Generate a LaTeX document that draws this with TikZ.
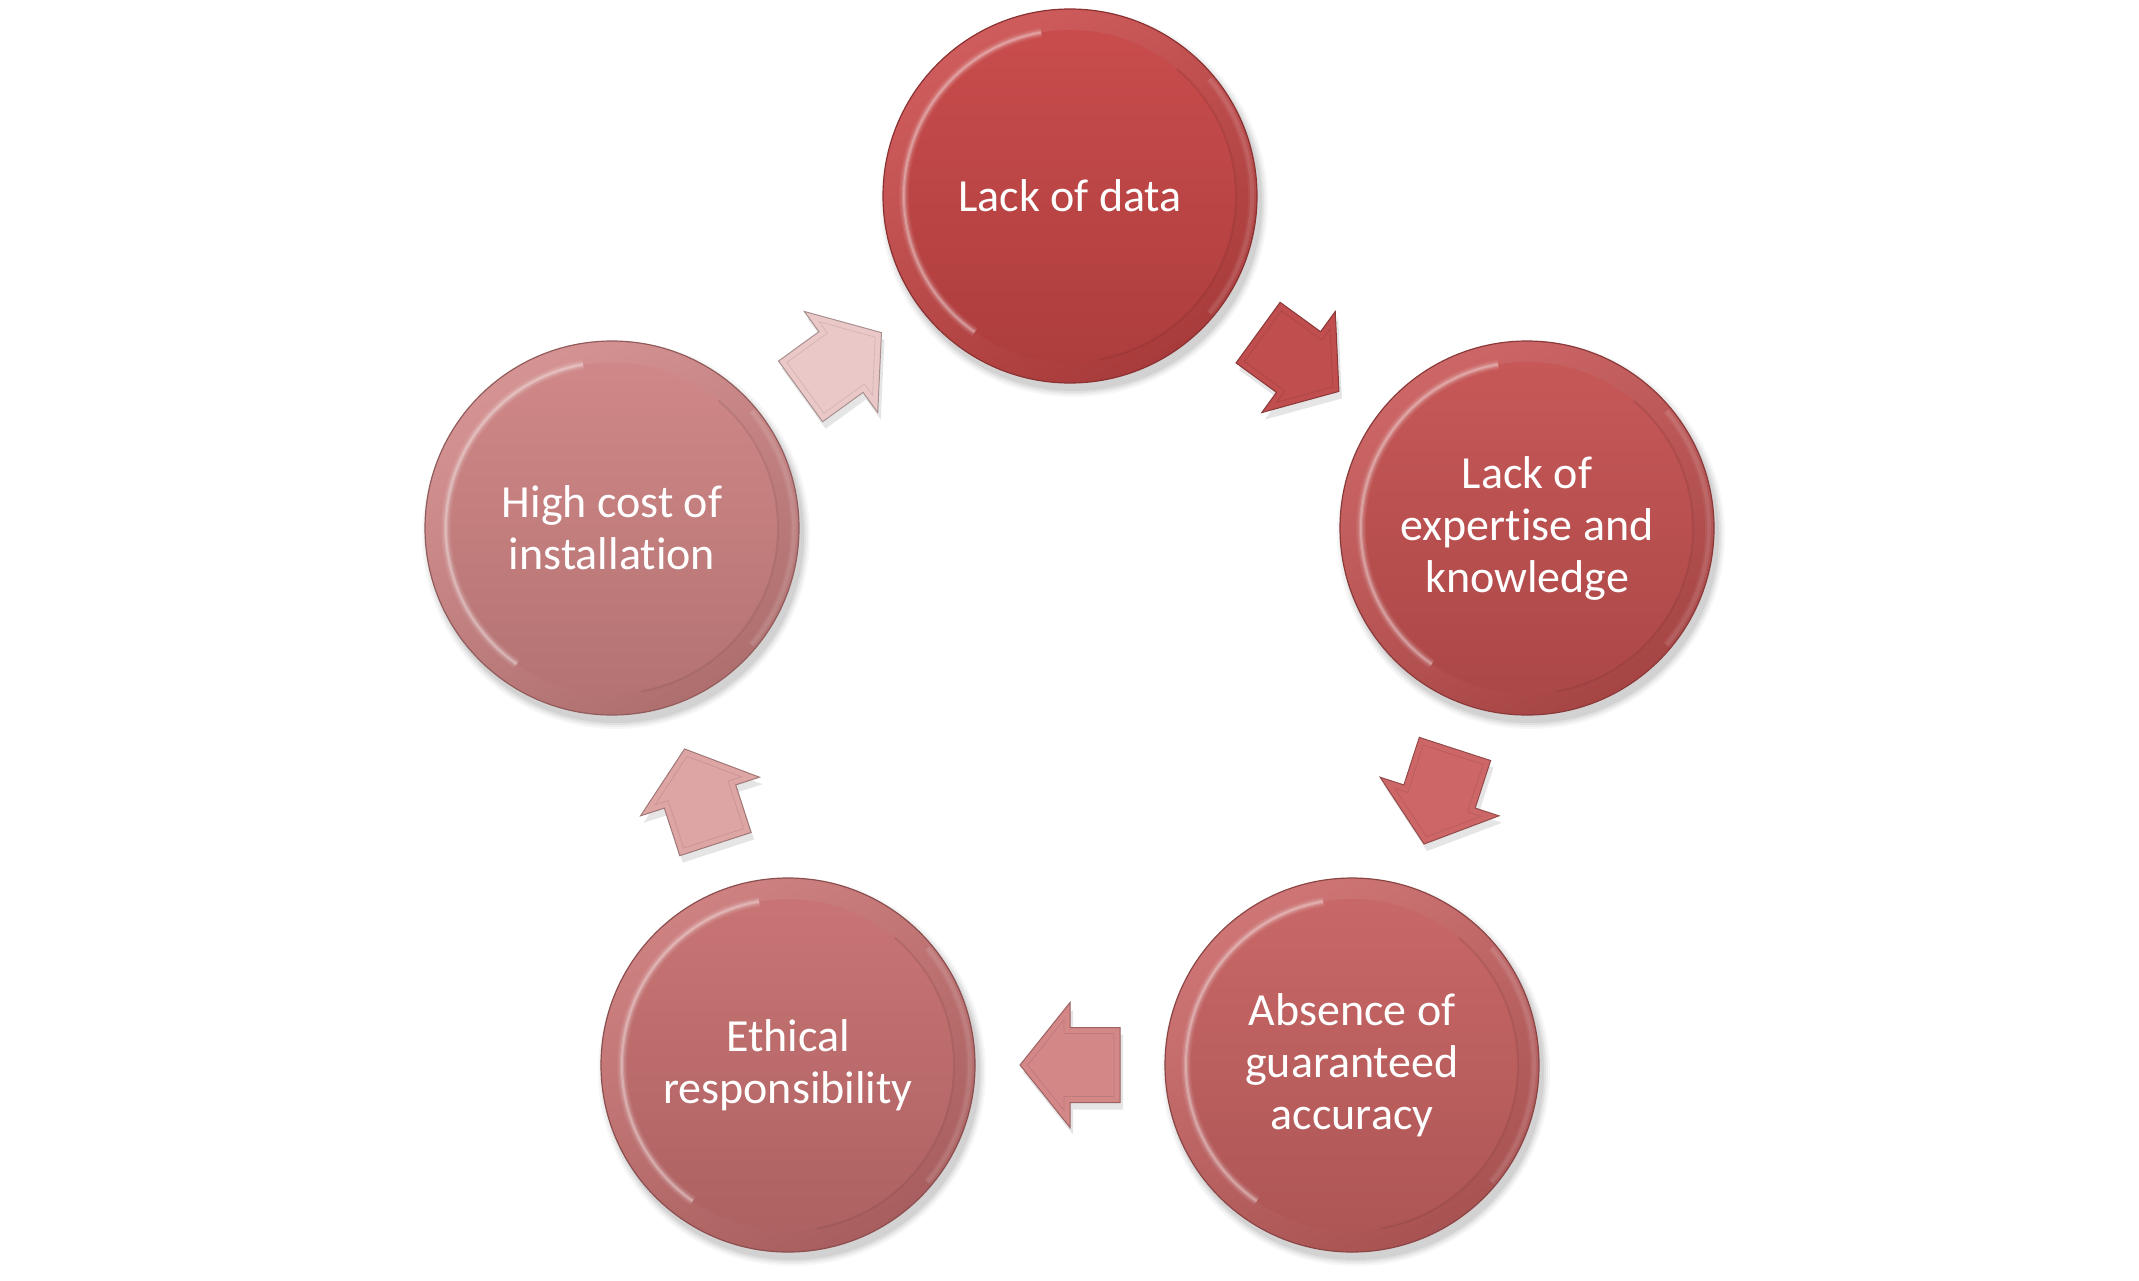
\documentclass[tikz,border=0pt]{standalone}
\usepackage{fontspec}
\setmainfont{Carlito}[Ligatures={NoCommon}]
\usetikzlibrary{calc}
\definecolor{cA}{RGB}{200,70,70}
\definecolor{cB}{RGB}{198,82,82}
\definecolor{cC}{RGB}{200,98,98}
\definecolor{cD}{RGB}{200,112,112}
\definecolor{cE}{RGB}{208,132,132}
\definecolor{aA}{RGB}{192,78,78}
\definecolor{aB}{RGB}{205,103,103}
\definecolor{aC}{RGB}{212,135,135}
\definecolor{aD}{RGB}{222,165,165}
\definecolor{aE}{RGB}{235,200,200}
\newcommand\bshadow[1]{%
  \foreach \r/\o in {97/0.03,96/0.04,95/0.05,94/0.06}{%
    \fill[black,opacity=\o] ($(#1)+(4,7)$) circle[radius=\r pt];}}
\newcommand\cycarrow[4]{% from, to, angle, colour
  \begin{scope}[shift={($($(#1)!0.5!(#2)$)+(3,7)$)}, rotate=#3]
    \fill[black,opacity=0.10] (-50,-37.5) -- (0,-37.5) -- (0,-62.5) -- (50,0) -- (0,62.5) -- (0,37.5) -- (-50,37.5) -- cycle;
  \end{scope}
  \begin{scope}[shift={($(#1)!0.5!(#2)$)}, rotate=#3]
    \path[arrowbody=#4] (-50,-37.5) -- (0,-37.5) -- (0,-62.5) -- (50,0) -- (0,62.5) -- (0,37.5) -- (-50,37.5) -- cycle;
    \path[arrowbevel=#4] (-44,-31.5) -- (6,-31.5) -- (6,-45.4) -- (42.3,0) -- (6,45.4) -- (6,31.5) -- (-44,31.5) -- cycle;
  \end{scope}}
\begin{document}
\begin{tikzpicture}[x=0.5pt,y=-0.5pt,
  bubble/.style={circle, minimum size=187pt, inner sep=0pt, text=white, align=center,
    font=\fontsize{23}{26}\selectfont, draw=#1!70!black, line width=0.6pt,
    top color=#1!88!white, bottom color=#1!84!black, shading angle=30,
    path picture={
      \shade[top color=#1!96!white, bottom color=#1!86!black]
        (path picture bounding box.center) circle[radius=83pt];
      \foreach \w/\o in {5/0.06,3.5/0.10,2/0.16,1/0.22}{%
        \draw[white, opacity=\o, line width=\w pt]
          ([shift={(100:83pt)}]path picture bounding box.center) arc[start angle=100, end angle=235, radius=83pt];}
      \foreach \w/\o in {4/0.05,2/0.09}{%
        \draw[white, opacity=\o, line width=\w pt]
          ([shift={(-40:91pt)}]path picture bounding box.center) arc[start angle=-40, end angle=40, radius=91pt];}
      \draw[#1!55!black, opacity=0.18, line width=1pt]
        ([shift={(-80:83pt)}]path picture bounding box.center) arc[start angle=-80, end angle=50, radius=83pt];
    }},
  arrowbody/.style={fill=#1, draw=#1!72!black, line width=0.5pt},
  arrowbevel/.style={draw=#1!80!black, line width=0.4pt, draw opacity=0.45},
]
\fill[white] (0,0) rectangle (2139,1280);
\useasboundingbox (0,0) rectangle (2139,1280);

\coordinate (pA) at (1070,196);
\coordinate (pB) at (1527,528);
\coordinate (pC) at (1352,1065);
\coordinate (pD) at (788,1065);
\coordinate (pE) at (612,528);

\bshadow{pA}\bshadow{pB}\bshadow{pC}\bshadow{pD}\bshadow{pE}

\node[bubble=cA] (nA) at (pA) {Lack of data};
\node[bubble=cB] (nB) at (pB) {Lack of\\expertise and\\knowledge};
\node[bubble=cC] (nC) at (pC) {Absence of\\guaranteed\\accuracy};
\node[bubble=cD] (nD) at (pD) {Ethical\\responsibility};
\node[bubble=cE] (nE) at (pE) {High cost of\\installation};

\cycarrow{nA}{nB}{-36}{aA}
\cycarrow{nB}{nC}{-108}{aB}
\cycarrow{nC}{nD}{180}{aC}
\cycarrow{nD}{nE}{108}{aD}
\cycarrow{nE}{nA}{36}{aE}
\end{tikzpicture}
\end{document}
